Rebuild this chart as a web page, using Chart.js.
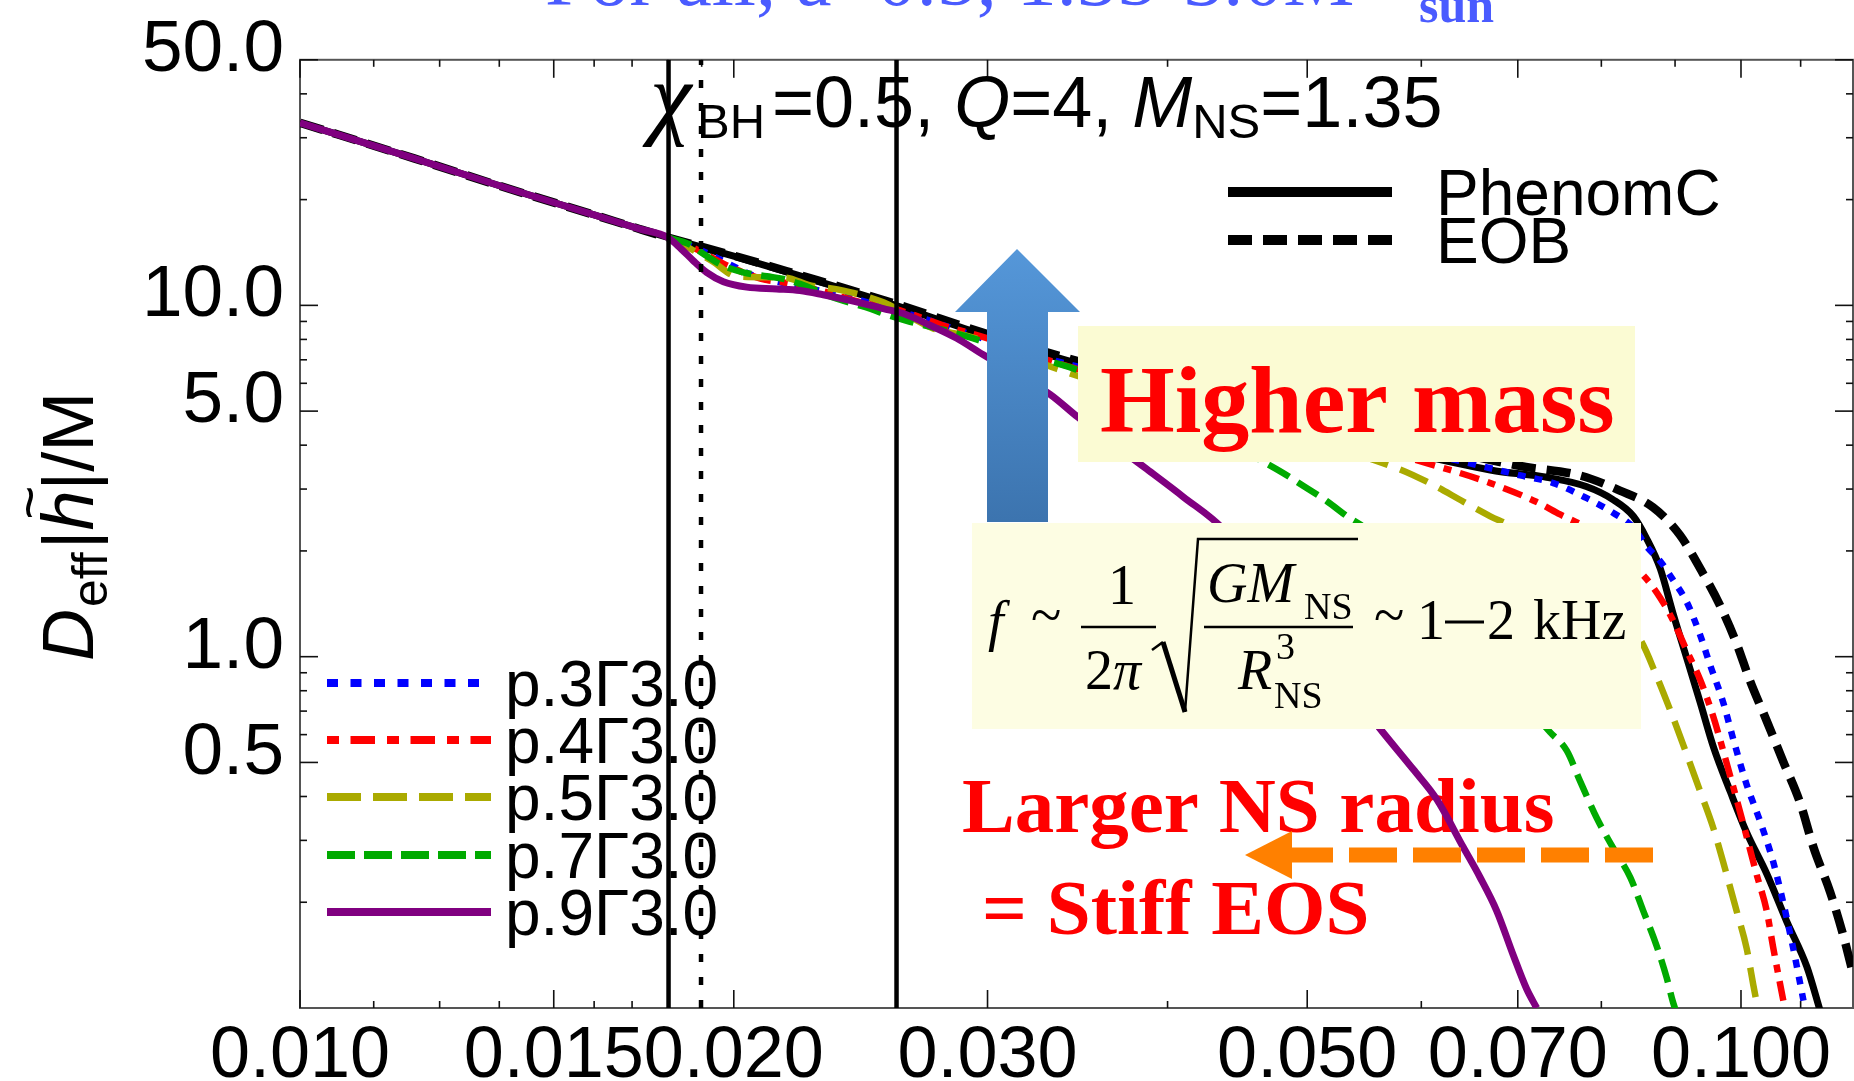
<!DOCTYPE html>
<html><head><meta charset="utf-8">
<script src="https://cdn.jsdelivr.net/npm/chart.js@4.4.1/dist/chart.umd.min.js"></script>
<style>html,body{margin:0;padding:0;background:#fff;overflow:hidden}canvas{display:block}</style>
</head><body>
<canvas id="c" width="1854" height="1081" style="width:1854px;height:1081px"></canvas>
<script>
// ---------- axis ticks ----------
const xMajorTicks = [0.01, 0.015, 0.02, 0.03, 0.05, 0.07, 0.1];
const xTickLabels = ['0.010', '0.015', '0.020', '0.030', '0.050', '0.070', '0.100'];
const xMinorTicks = [0.01125, 0.0125, 0.01375, 0.016, 0.017, 0.018, 0.019, 0.04, 0.06, 0.08, 0.09, 0.11];
const yMajorTicks = [50, 10, 5, 1, 0.5];
const yTickLabels = ['50.0', '10.0', '5.0', '1.0', '0.5'];
const yMinorTicks = [0.2, 0.3, 0.4, 0.6, 0.7, 0.8, 0.9, 2, 3, 4, 6, 7, 8, 9, 20, 30, 40];
const xRange = [0.01, 0.1196];
const yRange = [0.1, 50];
const verticalLineF = [0.01802, 0.01898, 0.02594];

// ---------- series (frequency Mf, amplitude D_eff|h|/M) ----------
const phenomF = [0.010, 0.012, 0.014, 0.016, 0.0172, 0.018, 0.020, 0.022, 0.0259, 0.0298, 0.0346, 0.0670, 0.0733, 0.0781, 0.0815, 0.0842, 0.0860, 0.0879, 0.0897, 0.0917, 0.0937, 0.0957, 0.0983, 0.1009, 0.1042, 0.1076, 0.1111, 0.1135];
const phenomV = [33.1, 26.2, 21.4, 18.1, 16.5, 15.6, 13.8, 12.3, 10.0, 8.25, 6.85, 3.40, 3.24, 3.05, 2.80, 2.51, 2.17, 1.78, 1.33, 0.99, 0.74, 0.553, 0.413, 0.316, 0.241, 0.176, 0.131, 0.098];

const eobF = [0.010, 0.012, 0.014, 0.016, 0.0172, 0.018, 0.020, 0.022, 0.0259, 0.0298, 0.0346, 0.0700, 0.0773, 0.0824, 0.0869, 0.0907, 0.0937, 0.0967, 0.0993, 0.1014, 0.1042, 0.1070, 0.1099, 0.1123, 0.1153, 0.1178, 0.1198];
const eobV = [33.1, 26.2, 21.4, 18.1, 16.5, 15.6, 13.85, 12.35, 10.1, 8.35, 6.95, 3.50, 3.28, 2.97, 2.66, 2.22, 1.78, 1.40, 1.09, 0.858, 0.656, 0.502, 0.384, 0.286, 0.214, 0.160, 0.122];

const p3F = [0.018, 0.0188, 0.0195, 0.0207, 0.0218, 0.0232, 0.0250, 0.0268, 0.0290, 0.0320, 0.0346, 0.0703, 0.0741, 0.0781, 0.0815, 0.0842, 0.0860, 0.0879, 0.0897, 0.0917, 0.0937, 0.0952, 0.0972, 0.0988, 0.1009, 0.1031, 0.1053, 0.1070, 0.1087, 0.1105];
const p3V = [15.6, 14.6, 13.6, 12.1, 11.5, 10.9, 10.1, 9.3, 8.35, 7.3, 6.7, 3.28, 3.12, 2.83, 2.57, 2.33, 2.06, 1.87, 1.655, 1.43, 1.15, 0.945, 0.741, 0.58, 0.433, 0.34, 0.26, 0.199, 0.148, 0.105];

const p4F = [0.018, 0.0188, 0.0197, 0.0209, 0.0217, 0.0230, 0.0245, 0.0259, 0.0280, 0.0300, 0.0330, 0.0346, 0.0628, 0.0670, 0.0721, 0.0749, 0.0781, 0.0856, 0.0879, 0.0897, 0.0917, 0.0937, 0.0957, 0.0977, 0.0993, 0.1009, 0.1025, 0.1042, 0.1053, 0.1070];
const p4V = [15.6, 14.5, 13.1, 11.9, 11.6, 11.0, 10.2, 9.75, 8.75, 8.05, 7.0, 6.6, 3.40, 3.12, 2.76, 2.54, 2.33, 1.70, 1.47, 1.27, 1.04, 0.858, 0.672, 0.50, 0.393, 0.308, 0.241, 0.189, 0.148, 0.105];

const p5F = [0.018, 0.0186, 0.0193, 0.0201, 0.0217, 0.0226, 0.0236, 0.0254, 0.0275, 0.0290, 0.0310, 0.0335, 0.0577, 0.0608, 0.0642, 0.0670, 0.0695, 0.0851, 0.0874, 0.0897, 0.0917, 0.0937, 0.0957, 0.0977, 0.0993, 0.1009, 0.1020, 0.1028];
const p5V = [15.6, 14.6, 13.4, 12.1, 12.0, 11.4, 11.1, 10.2, 8.6, 8.2, 7.5, 6.6, 3.44, 3.12, 2.76, 2.51, 2.33, 1.12, 0.879, 0.672, 0.527, 0.413, 0.324, 0.241, 0.189, 0.148, 0.116, 0.098];

const p7F = [0.018, 0.01865, 0.01906, 0.01967, 0.0203, 0.02108, 0.02165, 0.02223, 0.02358, 0.02487, 0.0254, 0.02651, 0.02825, 0.0298, 0.03144, 0.03315, 0.03459, 0.0476, 0.0497, 0.0516, 0.0535, 0.0547, 0.0737, 0.0757, 0.0773, 0.0794, 0.0815, 0.0838, 0.0855, 0.0874, 0.0888, 0.0897, 0.0902];
const p7V = [15.6, 14.9, 14.0, 12.96, 12.42, 12.1, 11.89, 11.51, 10.44, 9.79, 9.48, 8.98, 8.42, 7.89, 7.39, 6.93, 6.56, 3.42, 3.06, 2.77, 2.48, 2.34, 0.61, 0.54, 0.444, 0.348, 0.286, 0.235, 0.19, 0.15, 0.122, 0.104, 0.097];

const p9F = [0.010, 0.012, 0.014, 0.016, 0.0172, 0.018, 0.0184, 0.01875, 0.01915, 0.01967, 0.02042, 0.02142, 0.02223, 0.02307, 0.02408, 0.0254, 0.02622, 0.02736, 0.02856, 0.0298, 0.03144, 0.03315, 0.03467, 0.03869, 0.04102, 0.04372, 0.05646, 0.05923, 0.06149, 0.06418, 0.0659, 0.06768, 0.0695, 0.07099, 0.07215];
const p9V = [33.1, 26.2, 21.4, 18.1, 16.5, 15.6, 14.44, 13.39, 12.42, 11.68, 11.27, 11.14, 11.02, 10.72, 10.33, 9.79, 9.48, 8.78, 8.06, 7.23, 6.35, 5.58, 4.80, 3.42, 2.85, 2.31, 0.6075, 0.478, 0.393, 0.2862, 0.2356, 0.1891, 0.1413, 0.1134, 0.1];

const eosLabels = ['p.3\u03933.0', 'p.4\u03933.0', 'p.5\u03933.0', 'p.7\u03933.0', 'p.9\u03933.0'];
const modelLabels = ['PhenomC', 'EOB'];

// ---------- helpers ----------
const pts = (fs, vs) => fs.map((f, i) => ({x: f, y: vs[i]}));
const SANS = '"Liberation Sans", Arial, Helvetica, sans-serif';
const SERIF = '"Liberation Serif", "Times New Roman", Times, serif';

const eosStyles = [
  {color: '#0000ff', dash: [8, 9],         legendDash: [11, 12.5], width: 6.5},
  {color: '#ff0000', dash: [20, 9, 8, 9],  legendDash: [12, 11.5, 24.5, 12], width: 6.5},
  {color: '#aaaa00', dash: [30, 13],       legendDash: [34, 12], width: 6.5},
  {color: '#00aa00', dash: [24, 10],       legendDash: [28, 9], width: 6.5},
  {color: '#800080', dash: [],             legendDash: [], width: 7}
];
const eosData = [pts(p3F, p3V), pts(p4F, p4V), pts(p5F, p5V), pts(p7F, p7V), pts(p9F, p9V)];

const datasets = [];
verticalLineF.forEach((f, i) => {
  datasets.push({label: 'vline' + i, data: [{x: f, y: yRange[0]}, {x: f, y: yRange[1]}],
    borderColor: '#000', borderWidth: 4.5, borderDash: i === 1 ? [8, 15] : [], tension: 0, pointRadius: 0});
});
// purple on top, then the others
[4, 3, 2, 1, 0].forEach(k => {
  datasets.push({label: eosLabels[k], data: eosData[k], borderColor: eosStyles[k].color,
    borderWidth: eosStyles[k].width, borderDash: eosStyles[k].dash, cubicInterpolationMode: 'monotone', pointRadius: 0});
});
datasets.push({label: modelLabels[1], data: pts(eobF, eobV), borderColor: '#000', borderWidth: 8.5, borderDash: [24, 11], cubicInterpolationMode: 'monotone', pointRadius: 0});
datasets.push({label: modelLabels[0], data: pts(phenomF, phenomV), borderColor: '#000', borderWidth: 7, borderDash: [], cubicInterpolationMode: 'monotone', pointRadius: 0});

// ---------- drawing plugins ----------
function txt(ctx, s, x, y, font, color, align) {
  ctx.font = font; ctx.fillStyle = color || '#000'; ctx.textAlign = align || 'left'; ctx.textBaseline = 'alphabetic';
  ctx.fillText(s, x, y);
  return ctx.measureText(s).width;
}

const decor = {
  id: 'decor',
  beforeDatasetsDraw(chart) {
    const {ctx, chartArea: a, scales: {x, y}} = chart;
    ctx.save();
    // frame
    ctx.strokeStyle = '#555'; ctx.lineWidth = 2;
    ctx.strokeRect(a.left, a.top, a.right - a.left, a.bottom - a.top);
    // ticks (inward, mirrored)
    ctx.strokeStyle = '#111'; ctx.lineWidth = 1.6;
    const tk = (px, py, dx, dy) => { ctx.beginPath(); ctx.moveTo(px, py); ctx.lineTo(px + dx, py + dy); ctx.stroke(); };
    xMajorTicks.forEach(v => { const p = x.getPixelForValue(v); tk(p, a.bottom, 0, -18); tk(p, a.top, 0, 18); });
    xMinorTicks.forEach(v => { const p = x.getPixelForValue(v); tk(p, a.bottom, 0, -7); tk(p, a.top, 0, 7); });
    yMajorTicks.forEach(v => { const p = y.getPixelForValue(v); tk(a.left, p, 18, 0); tk(a.right, p, -18, 0); });
    yMinorTicks.forEach(v => { const p = y.getPixelForValue(v); tk(a.left, p, 7, 0); tk(a.right, p, -7, 0); });
    // "Larger NS radius" text (under the curves)
    txt(ctx, 'Larger NS radius', 962, 832, 'bold 79px ' + SERIF, '#ff0000');
    ctx.restore();
  },
  afterDatasetsDraw(chart) {
    const {ctx} = chart;
    ctx.save();
    // blue up arrow
    const g = ctx.createLinearGradient(0, 249, 0, 520);
    g.addColorStop(0, '#5597d9'); g.addColorStop(1, '#3c74af');
    ctx.fillStyle = g;
    ctx.beginPath();
    ctx.moveTo(1017, 249); ctx.lineTo(1080, 312); ctx.lineTo(1048, 312); ctx.lineTo(1048, 522);
    ctx.lineTo(987, 522); ctx.lineTo(987, 312); ctx.lineTo(955, 312); ctx.closePath(); ctx.fill();

    // Higher mass box
    ctx.fillStyle = '#fbfbd3';
    ctx.fillRect(1078, 326, 557, 136);
    txt(ctx, 'Higher mass', 1100, 432, 'bold 96px ' + SERIF, '#ff0000');

    // formula box
    ctx.fillStyle = '#fdfde3';
    ctx.fillRect(972, 523, 669, 206);
    const F = '56px ' + SERIF, FI = 'italic 56px ' + SERIF, FS = '38px ' + SERIF;
    txt(ctx, 'f', 988, 640, FI);
    txt(ctx, '~', 1031, 634, F);
    txt(ctx, '1', 1108, 604, F);
    txt(ctx, '2', 1085, 689, F);
    txt(ctx, '\u03c0', 1113, 689, FI);
    ctx.strokeStyle = '#000'; ctx.lineWidth = 2.5;
    ctx.beginPath(); ctx.moveTo(1081, 627); ctx.lineTo(1156, 627); ctx.stroke();
    // radical
    ctx.lineWidth = 2.5;
    ctx.beginPath(); ctx.moveTo(1152, 650); ctx.lineTo(1163, 642); ctx.stroke();
    ctx.lineWidth = 5;
    ctx.beginPath(); ctx.moveTo(1163, 642); ctx.lineTo(1185, 712); ctx.stroke();
    ctx.lineWidth = 2.5;
    ctx.beginPath(); ctx.moveTo(1185, 712); ctx.lineTo(1198, 539); ctx.lineTo(1358, 539); ctx.stroke();
    txt(ctx, 'GM', 1207, 602, FI);
    txt(ctx, 'NS', 1304, 619, FS);
    ctx.beginPath(); ctx.moveTo(1204, 627); ctx.lineTo(1353, 627); ctx.stroke();
    txt(ctx, 'R', 1238, 689, FI);
    txt(ctx, '3', 1276, 659, FS);
    txt(ctx, 'NS', 1274, 708, FS);
    txt(ctx, '~', 1374, 634, F);
    txt(ctx, '1', 1417, 639, F);
    ctx.lineWidth = 3;
    ctx.beginPath(); ctx.moveTo(1445, 622); ctx.lineTo(1484, 622); ctx.stroke();
    txt(ctx, '2', 1487, 639, F);
    txt(ctx, 'kHz', 1533, 639, F);

    // "= Stiff EOS"
    txt(ctx, '= Stiff EOS', 982, 934, 'bold 79px ' + SERIF, '#ff0000');

    // orange dashed arrow
    ctx.strokeStyle = '#ff8000'; ctx.lineWidth = 15; ctx.setLineDash([48, 16]);
    ctx.beginPath(); ctx.moveTo(1653, 855); ctx.lineTo(1290, 855); ctx.stroke();
    ctx.setLineDash([]);
    ctx.fillStyle = '#ff8000';
    ctx.beginPath(); ctx.moveTo(1245, 855); ctx.lineTo(1292, 831); ctx.lineTo(1292, 879); ctx.closePath(); ctx.fill();

    // parameter text
    txt(ctx, '\u03c7', 650, 127, 'italic 94px ' + SERIF);
    txt(ctx, 'BH', 697, 138, '49px ' + SANS);
    let cx = 772;
    cx += txt(ctx, '=0.5, ', cx, 127, '72px ' + SANS);
    cx += txt(ctx, 'Q', cx, 127, 'italic 72px ' + SANS);
    cx += txt(ctx, '=4, ', cx, 127, '72px ' + SANS);
    cx += txt(ctx, 'M', cx, 127, 'italic 72px ' + SANS);
    cx += txt(ctx, 'NS', cx, 138, '49px ' + SANS);
    txt(ctx, '=1.35', cx, 127, '72px ' + SANS);

    // model legend
    ctx.strokeStyle = '#000'; ctx.lineWidth = 10;
    ctx.beginPath(); ctx.moveTo(1228, 192); ctx.lineTo(1392, 192); ctx.stroke();
    ctx.setLineDash([24, 11]);
    ctx.beginPath(); ctx.moveTo(1228, 240); ctx.lineTo(1392, 240); ctx.stroke();
    ctx.setLineDash([]);
    txt(ctx, modelLabels[0], 1436, 215, '64px ' + SANS);
    txt(ctx, modelLabels[1], 1436, 263, '64px ' + SANS);

    // EOS legend
    const rows = [683, 740, 797, 855, 912];
    eosStyles.forEach((s, k) => {
      ctx.strokeStyle = s.color; ctx.lineWidth = 8; ctx.setLineDash(s.legendDash);
      ctx.beginPath(); ctx.moveTo(327, rows[k]); ctx.lineTo(491, rows[k]); ctx.stroke();
      ctx.setLineDash([]);
      txt(ctx, eosLabels[k], 505, rows[k] + 23, '64px ' + SANS);
    });

    // title (clipped at top)
    const blue = '#4a5bff';
    txt(ctx, 'For all, a=0.5, 1.35-3.0M', 545, 5, '80px ' + SERIF, blue);
    txt(ctx, 'sun', 1419, 22, 'bold 50px ' + SERIF, blue);

    // y axis title (rotated)
    ctx.translate(93, 661);
    ctx.rotate(-Math.PI / 2);
    let p = 0;
    p += txt(ctx, 'D', p, 0, 'italic 72px ' + SANS);
    p += 2 + txt(ctx, 'eff', p + 2, 14, '50px ' + SANS) + 3;
    p += txt(ctx, '|', p, 0, '72px ' + SANS);
    const hx = p;
    const hw = txt(ctx, 'h', p, 0, 'italic 72px ' + SANS);
    txt(ctx, '~', hx + hw / 2 + 8, -44, '58px ' + SANS, '#000', 'center');
    p += hw;
    p += txt(ctx, '|', p, 0, '72px ' + SANS);
    txt(ctx, '/M', p, 0, '72px ' + SANS);
    ctx.restore();
  }
};

new Chart(document.getElementById('c'), {
  type: 'line',
  data: {datasets},
  options: {
    responsive: false, animation: false, devicePixelRatio: 1,
    layout: {padding: {left: 0, right: 1, top: 48, bottom: 0}},
    plugins: {legend: {display: false}, tooltip: {enabled: false}},
    elements: {point: {radius: 0}, line: {borderCapStyle: 'butt', borderJoinStyle: 'round', fill: false}},
    scales: {
      x: {
        type: 'logarithmic', position: 'bottom', min: xRange[0], max: xRange[1],
        grid: {display: false, drawTicks: false}, border: {display: false},
        ticks: {autoSkip: false, maxRotation: 0, minRotation: 0, padding: 6, color: '#000',
          font: {family: SANS, size: 72},
          callback: (v) => { const i = xMajorTicks.indexOf(v); return i >= 0 ? xTickLabels[i] : ''; }},
        afterBuildTicks: (s) => { s.ticks = xMajorTicks.map(v => ({value: v})); },
        afterFit: (s) => { s.height = 73; }
      },
      y: {
        type: 'logarithmic', position: 'left', min: yRange[0], max: yRange[1],
        grid: {display: false, drawTicks: false}, border: {display: false},
        ticks: {autoSkip: false, padding: 16, labelOffset: -9, color: '#000',
          font: {family: SANS, size: 73},
          callback: (v) => { const i = yMajorTicks.indexOf(v); return i >= 0 ? yTickLabels[i] : ''; }},
        afterBuildTicks: (s) => { s.ticks = yMajorTicks.map(v => ({value: v})); },
        afterFit: (s) => { s.width = 300; }
      }
    }
  },
  plugins: [decor]
});
</script>
</body></html>
